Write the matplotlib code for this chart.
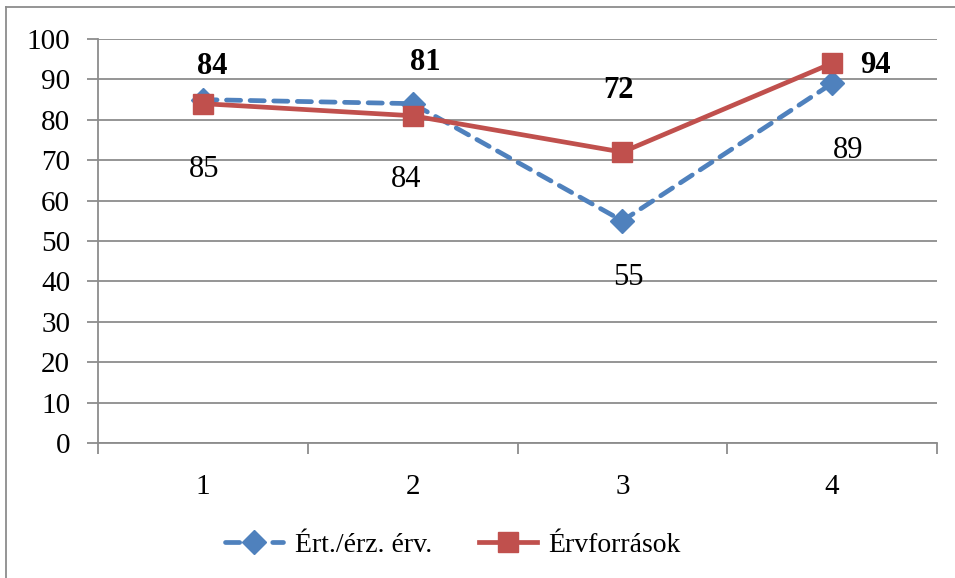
import matplotlib
matplotlib.use("Agg")
import matplotlib.pyplot as plt
from matplotlib.lines import Line2D

categories = ["1", "2", "3", "4"]
series1_name = "Ért./érz. érv."
series1 = [85, 84, 55, 89]
series2_name = "Érvforrások"
series2 = [84, 81, 72, 94]
yticks = [0, 10, 20, 30, 40, 50, 60, 70, 80, 90, 100]

# label offsets (pixels) for data labels
off1 = [(1, -70), (-7, -76), (6, -57), (16, -67)]
off2 = [(9, 37), (13, 53), (-4, 62), (43, -2)]

plt.rcParams['font.family'] = ['Liberation Serif', 'DejaVu Serif']

W, H = 955, 578
fig = plt.figure(figsize=(W / 100, H / 100), dpi=100)
ax = fig.add_axes([98 / W, 1 - 443 / H, (937 - 98) / W, (443 - 39) / H])

x = list(range(1, len(categories) + 1))
blue = "#4F81BD"
red = "#C0504D"
grid = "#8C8C8C"

ax.plot(x, series1, color=blue, lw=3.4, ls=(0, (3, 2)), marker="D",
        markersize=12, markerfacecolor=blue, markeredgecolor=blue,
        dash_capstyle="round", zorder=3, label=series1_name)
ax.plot(x, series2, color=red, lw=3.4, marker="s", markersize=14,
        markerfacecolor=red, markeredgecolor=red, zorder=4, label=series2_name)

px = 72 / 100
for xi, v, (dx, dy) in zip(x, series1, off1):
    ax.annotate(str(v), (xi, v), xytext=(dx * px, dy * px), textcoords="offset points",
                ha="center", va="center", fontsize=22, color="black")
for xi, v, (dx, dy) in zip(x, series2, off2):
    ax.annotate(str(v), (xi, v), xytext=(dx * px, dy * px), textcoords="offset points",
                ha="center", va="center", fontsize=22, fontweight="bold", color="black")

ax.set_xlim(0.5, len(categories) + 0.5)
ax.set_ylim(0, 100)
ax.set_yticks(yticks)
ax.set_yticklabels([str(t) for t in yticks])
ax.set_xticks(x)
ax.set_xticklabels(categories)
ax.set_xticks([i + 0.5 for i in range(0, len(categories) + 1)], minor=True)
ax.tick_params(axis="x", which="major", length=0, pad=22, labelsize=21)
ax.tick_params(axis="x", which="minor", length=8, width=1.3, color=grid, direction="out")
ax.tick_params(axis="y", which="major", length=8, width=1.3, color=grid, pad=12, labelsize=21)
ax.grid(axis="y", color=grid, lw=1.3)
ax.set_axisbelow(True)
for s in ["top", "right"]:
    ax.spines[s].set_visible(False)
for s in ["left", "bottom"]:
    ax.spines[s].set_color(grid)
    ax.spines[s].set_linewidth(1.3)

handles = [
    Line2D([], [], color=blue, lw=3.4, ls=(0, (3, 2)), marker="D", markersize=12,
           dash_capstyle="round"),
    Line2D([], [], color=red, lw=3.4, marker="s", markersize=14),
]
fig.legend(handles, [series1_name, series2_name], loc="center",
           bbox_to_anchor=(453 / W, 1 - 545 / H), ncol=2, frameon=False,
           fontsize=20, handlelength=2.1, handletextpad=0.4, columnspacing=1.7)

# outer border (left and top visible)
fig.add_artist(Line2D([6 / W, 6 / W], [0, 1 - 7 / H], color="#8C8C8C", lw=1.3,
                      transform=fig.transFigure))
fig.add_artist(Line2D([6 / W, 1], [1 - 7 / H, 1 - 7 / H], color="#8C8C8C", lw=1.3,
                      transform=fig.transFigure))

fig.savefig("out.png", dpi=100)
